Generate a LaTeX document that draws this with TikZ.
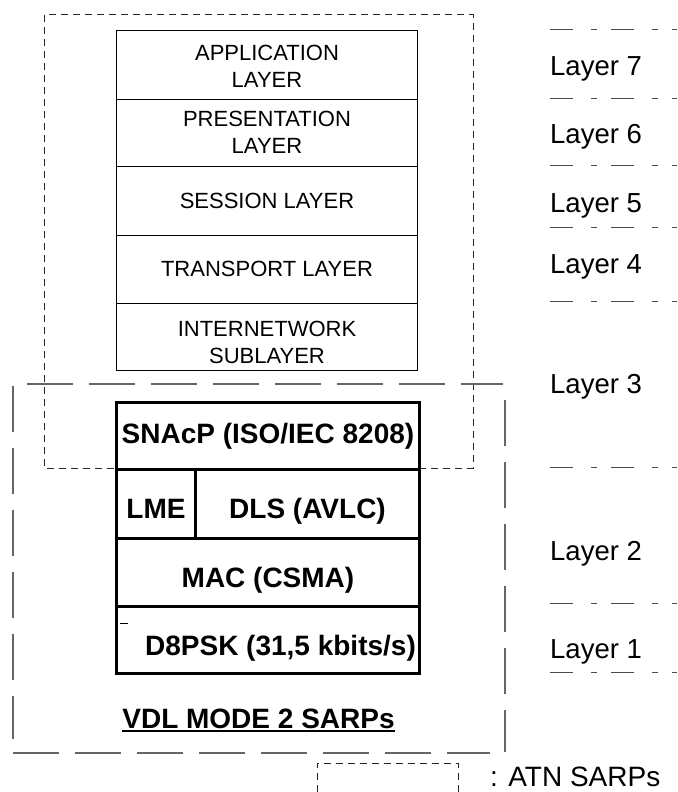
\documentclass[tikz,border=0pt]{standalone}
\usepackage{fontspec}
\setmainfont{Liberation Sans}
\begin{document}
\begin{tikzpicture}[x=1pt,y=-1pt,
  osibox/.style={draw, line width=1pt, anchor=north west, inner sep=0pt,
    minimum width=301pt, align=center, font=\fontsize{22}{27}\selectfont},
  vdlbox/.style={draw, line width=3pt, anchor=north west, inner sep=0pt,
    align=center, font=\fontsize{28}{33}\selectfont\bfseries},
  layerlab/.style={anchor=base west, inner sep=0pt, font=\fontsize{27.5}{33}\selectfont},
  sepline/.style={draw=black!70, line width=1pt, dash pattern=on 23pt off 18pt on 6pt off 14pt},
  atnline/.style={draw=black!85, line width=1pt, dash pattern=on 7pt off 5pt},
  vdlline/.style={draw=black!60, line width=1.2pt, dash pattern=on 46pt off 16pt}
]
\useasboundingbox (0,0) rectangle (677,792);

% ATN SARPs region
\draw[atnline] (44,15) rectangle (473,468);

% upper OSI layers
\node[osibox, minimum height=69pt, text height=45pt, text depth=0pt] (app) at (116,30) {APPLICATION\\LAYER};
\node[osibox, minimum height=67pt, text height=41pt, text depth=0pt] (pres) at (116,99) {PRESENTATION\\LAYER};
\node[osibox, minimum height=69pt, text height=15pt, text depth=0pt] (sess) at (116,166) {SESSION LAYER};
\node[osibox, minimum height=68pt, text height=14pt, text depth=0pt] (trans) at (116,235) {TRANSPORT LAYER};
\node[osibox, minimum height=67pt, text height=53pt, text depth=0pt] (inet) at (116,303) {INTERNETWORK\\SUBLAYER};

% VDL Mode 2 region
\draw[vdlline] (27,384) -- (503,384);
\draw[vdlline] (13,386) -- (13,739);
\draw[vdlline] (505,400) -- (505,752);
\draw[vdlline] (13,753) -- (490,753);

% VDL stack
\node[vdlbox, minimum width=303pt, minimum height=67pt, text height=21pt, text depth=6pt] (snacp) at (115,401) {SNAcP (ISO/IEC 8208)};
\node[vdlbox, minimum width=79pt, minimum height=69pt, text height=29pt, text depth=0pt] (lme) at (115,468) {LME};
\node[vdlbox, minimum width=224pt, minimum height=69pt, text height=29pt, text depth=0pt] (dls) at (194,468) {DLS (AVLC)};
\node[vdlbox, minimum width=303pt, minimum height=68pt, text height=30pt, text depth=0pt] (mac) at (115,537) {MAC (CSMA)};
\node[vdlbox, minimum width=303pt, minimum height=67pt, text height=31pt, text depth=0pt] (d8) at (115,605) {\hspace*{25pt}D8PSK (31,5 kbits/s)};
\draw[line width=0.8pt] (120,623) -- (128,623);

\node[anchor=base, inner sep=0pt, font=\fontsize{28}{33}\selectfont\bfseries] (vdl) at (258.5,728) {VDL MODE 2 SARPs};
\draw[line width=2pt] ([yshift=-2.5pt]vdl.base west) -- ([yshift=-2.5pt]vdl.base east);

% layer separators
\foreach \yy in {30,98,165,227,301,467,603,672}
  \draw[sepline] (550,\yy) -- (677,\yy);

% layer labels
\node[layerlab] (l7) at (550,75) {Layer 7};
\node[layerlab] (l6) at (550,143) {Layer 6};
\node[layerlab] (l5) at (550,212) {Layer 5};
\node[layerlab] (l4) at (550,273) {Layer 4};
\node[layerlab] (l3) at (550,393) {Layer 3};
\node[layerlab] (l2) at (550,560) {Layer 2};
\node[layerlab] (l1) at (550,658) {Layer 1};

% legend
\draw[atnline] (317,792) -- (317,763) -- (458,763) -- (458,792);
\node[anchor=base west, inner sep=0pt, font=\fontsize{28}{33}\selectfont] (legend) at (490,786) {: ATN SARPs};
\end{tikzpicture}
\end{document}
